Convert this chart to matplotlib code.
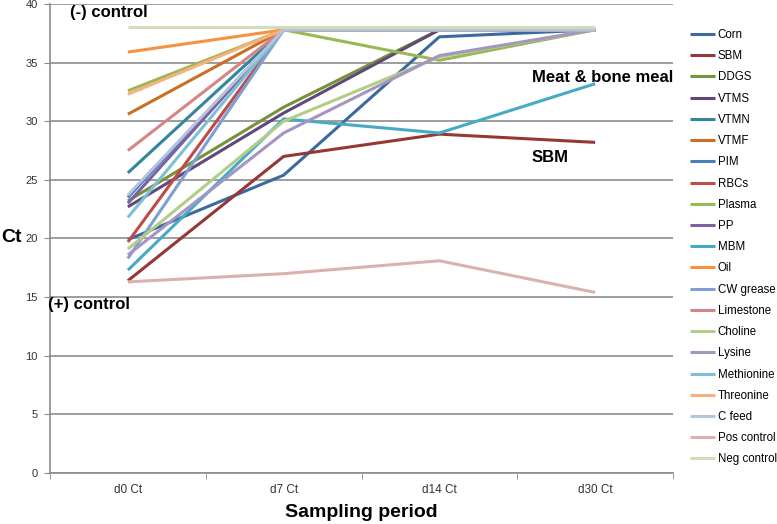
import matplotlib
matplotlib.use("Agg")
import matplotlib.pyplot as plt

plt.rcParams['font.family'] = ['Liberation Sans', 'DejaVu Sans']

# Sampling days and Ct values
periods = ['d0 Ct', 'd7 Ct', 'd14 Ct', 'd30 Ct']

corn = [19.9, 25.4, 37.2, 37.8]
sbm = [16.4, 27.0, 28.9, 28.2]
ddgs = [23.2, 31.2, 37.8, 37.8]
vtms = [22.7, 30.7, 37.8, 37.8]
vtmn = [25.6, 37.8, 37.8, 37.8]
vtmf = [30.6, 37.8, 37.8, 37.8]
pim = [23.5, 37.8, 37.8, 37.8]
rbcs = [19.7, 37.8, 37.8, 37.8]
plasma = [32.6, 37.8, 35.2, 37.8]
pp = [23.0, 37.8, 37.8, 37.8]
mbm = [17.3, 30.2, 29.0, 33.2]
oil = [35.9, 37.8, 37.8, 37.8]
cw_grease = [18.3, 37.8, 37.8, 37.8]
limestone = [27.5, 37.8, 37.8, 37.8]
choline = [19.1, 30.0, 35.5, 37.8]
lysine = [18.6, 29.0, 35.6, 37.8]
methionine = [21.8, 37.8, 37.8, 37.8]
threonine = [32.3, 37.8, 37.8, 37.8]
c_feed = [23.7, 37.8, 37.8, 37.8]
pos_control = [16.3, 17.0, 18.1, 15.4]
neg_control = [38.0, 38.0, 38.0, 38.0]

names = ['Corn', 'SBM', 'DDGS', 'VTMS', 'VTMN', 'VTMF', 'PIM', 'RBCs', 'Plasma',
         'PP', 'MBM', 'Oil', 'CW grease', 'Limestone', 'Choline', 'Lysine',
         'Methionine', 'Threonine', 'C feed', 'Pos control', 'Neg control']
series = [corn, sbm, ddgs, vtms, vtmn, vtmf, pim, rbcs, plasma, pp, mbm, oil,
          cw_grease, limestone, choline, lysine, methionine, threonine, c_feed,
          pos_control, neg_control]
colors = ['#3C6A9E', '#953735', '#76923C', '#5F497A', '#31859C', '#C96F26',
          '#4A7EBB', '#BE4B48', '#98B954', '#7D60A0', '#46AAC5', '#F69240',
          '#7F9FD2', '#D48685', '#B3CD87', '#A495C2', '#7DC0D6', '#F8B07E',
          '#B4C4DE', '#DBB0B0', '#CFDDBA']

fig = plt.figure(figsize=(7.77, 5.24), dpi=100)
ax = fig.add_axes([50/777, 51/524, 623/777, 469/524])

x = list(range(len(periods)))
for name, vals, c in zip(names, series, colors):
    ax.plot(x, vals, color=c, lw=2.2, label=name, solid_capstyle='butt')

ax.set_xlim(-0.5, 3.5)
ax.set_ylim(0, 40)
ax.set_yticks(range(0, 41, 5))
ax.set_xticks(x)
ax.set_xticklabels(periods)
ax.set_xticks([-0.5, 0.5, 1.5, 2.5, 3.5], minor=True)
ax.tick_params(axis='x', which='major', length=0, labelsize=8.5, colors='#333333', pad=8)
ax.tick_params(axis='x', which='minor', length=4, color='#888888')
ax.tick_params(axis='y', length=4, labelsize=8, colors='#333333', pad=5)
ax.tick_params(axis='y', color='#888888')
ax.yaxis.grid(True, color='#8c8c8c', lw=1.2)
ax.set_axisbelow(True)
for s in ['top', 'right']:
    ax.spines[s].set_visible(False)
for s in ['left', 'bottom']:
    ax.spines[s].set_color('#8c8c8c')
    ax.spines[s].set_linewidth(1.2)

ax.set_ylabel('Ct', fontsize=14, fontweight='bold', rotation=0, va='center', ha='center')
ax.yaxis.set_label_coords((12 - 50) / 623, (473 - 238) / 469)
ax.set_xlabel('Sampling period', fontsize=14, fontweight='bold', labelpad=6)

fig.text(70/777, 1 - 13/524, '(-) control', fontsize=12, fontweight='bold', va='center')
fig.text(48/777, 1 - 305/524, '(+) control', fontsize=12, fontweight='bold', va='center')
fig.text(532/777, 1 - 77/524, 'Meat & bone meal', fontsize=12, fontweight='bold', va='center')
fig.text(532/777, 1 - 157/524, 'SBM', fontsize=12, fontweight='bold', va='center')

fig.legend(loc='upper left', bbox_to_anchor=(690/777, 1 - 29/524), frameon=False,
           fontsize=8.3, handlelength=2.2, handletextpad=0.2, labelspacing=0.80,
           borderaxespad=0, borderpad=0)

fig.savefig('out.png', dpi=100)
